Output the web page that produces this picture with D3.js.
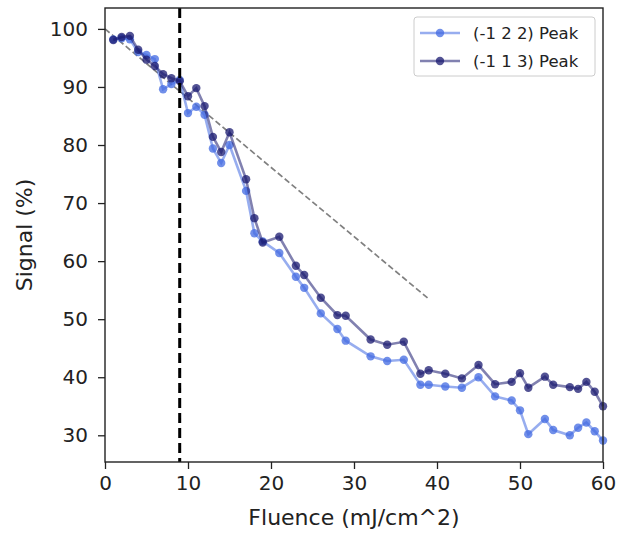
<!DOCTYPE html>
<html lang="en">
<head>
<meta charset="utf-8">
<title>Signal vs Fluence</title>
<script src="https://d3js.org/d3.v7.min.js"></script>
<style>
  body { margin: 0; background: #fff; }
  text { font-family: "DejaVu Sans", sans-serif; fill: #222; }
</style>
</head>
<body>
<div id="chart"></div>
<script>
// fluence values (mJ/cm^2)
const fluence = [1, 2, 3, 4, 5, 6, 7, 8, 9, 10, 11, 12, 13, 14, 15, 17, 18, 19, 21, 23, 24, 26, 28, 29,
                 32, 34, 36, 38, 39, 41, 43, 45, 47, 49, 50, 51, 53, 54, 56, 57, 58, 59, 60];
// (-1 2 2) peak
const peak122 = [98.2, 98.4, 98.2, 96.0, 95.5, 94.8, 89.6, 90.5, 91.2, 85.5, 86.6, 85.2, 79.4, 76.9, 80.0,
                 72.1, 64.8, 63.4, 61.4, 57.3, 55.4, 51.0, 48.3, 46.3, 43.6, 42.8, 43.0, 38.7, 38.7,
                 38.4, 38.2, 40.0, 36.7, 36.0, 34.3, 30.2, 32.8, 30.9, 30.0, 31.3, 32.2, 30.7, 29.1];
// (-1 1 3) peak
const peak113 = [98.1, 98.6, 98.8, 96.4, 94.7, 93.6, 92.2, 91.5, 91.0, 88.4, 89.8, 86.7, 81.4, 78.8, 82.2,
                 74.1, 67.4, 63.2, 64.2, 59.2, 57.6, 53.7, 50.7, 50.6, 46.5, 45.6, 46.1, 40.6, 41.2,
                 40.6, 39.8, 42.1, 38.8, 39.2, 40.7, 38.2, 40.1, 38.7, 38.3, 38.0, 39.2, 37.5, 35.0];
const seriesNames = ["(-1 2 2) Peak", "(-1 1 3) Peak"];
const trendX = [0, 39];
const trendY = [100, 53.5];
const thresholdX = 9;
const xTicks = [0, 10, 20, 30, 40, 50, 60];
const yTicks = [30, 40, 50, 60, 70, 80, 90, 100];

const W = 620, H = 535;
const margin = { top: 8, right: 17, bottom: 73, left: 105 };
const w = W - margin.left - margin.right;
const h = H - margin.top - margin.bottom;

const svg = d3.select("#chart").append("svg")
    .attr("width", W).attr("height", H);
const g = svg.append("g")
    .attr("transform", `translate(${margin.left},${margin.top})`);

const x = d3.scaleLinear().domain([0, 60]).range([0, w]);
const y = d3.scaleLinear().domain([25.4, 103.6]).range([h, 0]);

const colors = ["royalblue", "midnightblue"];
const series = [peak122, peak113].map((vals, i) => ({
  name: seriesNames[i],
  color: colors[i],
  pts: fluence.map((f, j) => ({ x: f, y: vals[j] }))
}));

// trend line
g.append("line")
    .attr("x1", x(trendX[0])).attr("y1", y(trendY[0]))
    .attr("x2", x(trendX[1])).attr("y2", y(trendY[1]))
    .attr("stroke", "#808080").attr("stroke-width", 1.7)
    .attr("stroke-dasharray", "6,3");

const line = d3.line().x(d => x(d.x)).y(d => y(d.y));

series.forEach(s => {
  g.append("path")
      .datum(s.pts)
      .attr("fill", "none")
      .attr("stroke", s.color)
      .attr("stroke-opacity", 0.55)
      .attr("stroke-width", 2.6)
      .attr("d", line);
  g.selectAll(null)
      .data(s.pts)
      .enter().append("circle")
      .attr("cx", d => x(d.x))
      .attr("cy", d => y(d.y))
      .attr("r", 4.2)
      .attr("fill", s.color)
      .attr("fill-opacity", 0.75);
});

// threshold
g.append("line")
    .attr("x1", x(thresholdX)).attr("x2", x(thresholdX))
    .attr("y1", 0).attr("y2", h)
    .attr("stroke", "#000").attr("stroke-width", 3)
    .attr("stroke-dasharray", "10,5");

// axes
const xAxis = g.append("g")
    .attr("transform", `translate(0,${h})`)
    .call(d3.axisBottom(x).tickValues(xTicks).tickSize(7).tickPadding(7));
const yAxis = g.append("g")
    .call(d3.axisLeft(y).tickValues(yTicks).tickSize(7).tickPadding(10));
[xAxis, yAxis].forEach(a => {
  a.selectAll("text").style("font-size", "20px").attr("fill", "#222");
  a.selectAll("line").attr("stroke", "#222").attr("stroke-width", 1.3);
  a.select(".domain").remove();
});

// frame
g.append("rect")
    .attr("width", w).attr("height", h)
    .attr("fill", "none").attr("stroke", "#222").attr("stroke-width", 1.4);

// axis labels
svg.append("text")
    .attr("x", margin.left + w / 2).attr("y", 525)
    .attr("text-anchor", "middle")
    .style("font-size", "22px")
    .text("Fluence (mJ/cm^2)");
svg.append("text")
    .attr("transform", `translate(32,${margin.top + h / 2}) rotate(-90)`)
    .attr("text-anchor", "middle")
    .style("font-size", "22px")
    .text("Signal (%)");

// legend
const lg = svg.append("g").attr("transform", "translate(414,17)");
lg.append("rect")
    .attr("width", 181).attr("height", 59).attr("rx", 3)
    .attr("fill", "#fff").attr("stroke", "#ccc");
series.forEach((s, i) => {
  const yy = 16 + i * 28;
  lg.append("line")
      .attr("x1", 6).attr("x2", 46).attr("y1", yy).attr("y2", yy)
      .attr("stroke", s.color).attr("stroke-opacity", 0.55).attr("stroke-width", 2.6);
  lg.append("circle")
      .attr("cx", 26).attr("cy", yy).attr("r", 4.2)
      .attr("fill", s.color).attr("fill-opacity", 0.75);
  lg.append("text")
      .attr("x", 59).attr("y", yy + 6)
      .style("font-size", "16.5px")
      .text(s.name);
});
</script>
</body>
</html>
